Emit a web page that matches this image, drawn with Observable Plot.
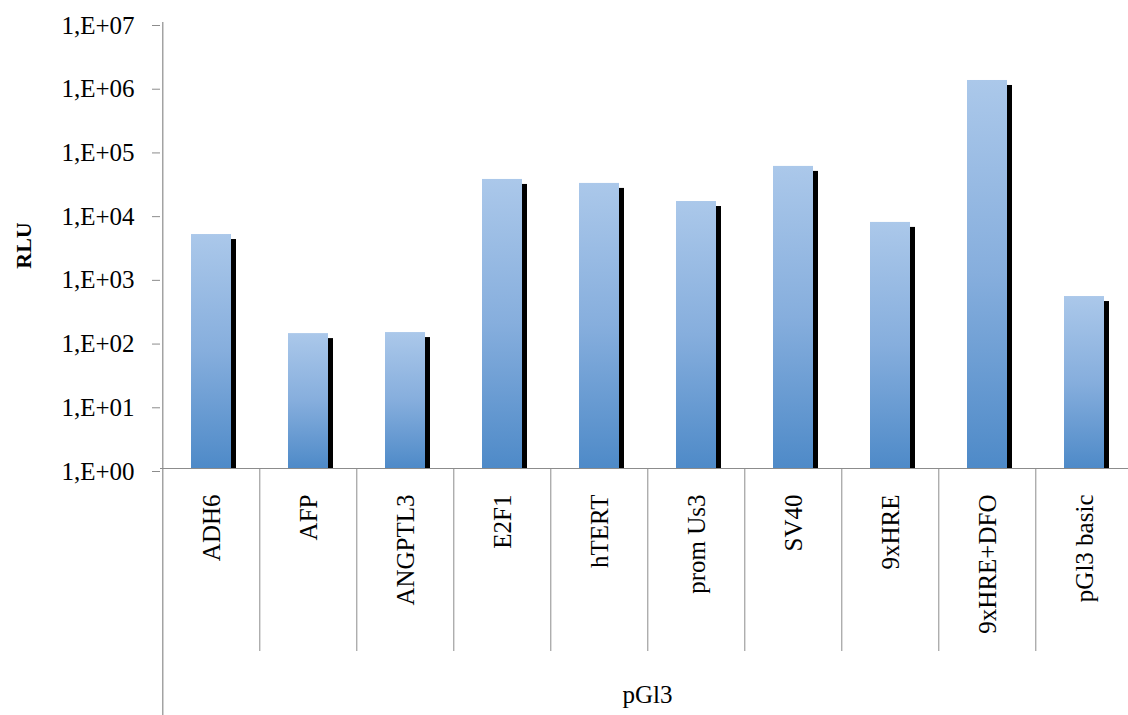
<!DOCTYPE html>
<html><head><meta charset="utf-8">
<script src="https://cdn.jsdelivr.net/npm/d3@7"></script>
<script src="https://cdn.jsdelivr.net/npm/@observablehq/plot@0.6"></script>
<style>body{margin:0;background:#fff}</style>
</head><body><div id="chart"></div>
<script>
const categories = ["ADH6","AFP","ANGPTL3","E2F1","hTERT","prom Us3","SV40","9xHRE","9xHRE+DFO","pGl3 basic"];
const values = [4700, 131, 136, 34400, 29800, 15500, 55100, 7280, 1230000, 500];
const yTicks = [1, 10, 100, 1000, 10000, 100000, 1000000, 10000000];
const yTickLabels = ["1,E+00","1,E+01","1,E+02","1,E+03","1,E+04","1,E+05","1,E+06","1,E+07"];
const yLabel = "RLU";
const groupLabel = "pGl3";

const data = categories.map((c, i) => ({category: c, value: values[i]}));
const W = 1128, H = 715, left = 160, right = 1134;
const mTop = 22, mBottom = 247;
const step = (right - left) / categories.length;
const axisGray = "#8c8c8c";
const font = "'Liberation Serif', 'Times New Roman', serif";

const chart = Plot.plot({
  width: W, height: H,
  marginLeft: 160, marginRight: 0, marginTop: mTop, marginBottom: mBottom,
  style: {fontFamily: font, background: "white", color: "black", overflow: "visible"},
  x: {type: "band", domain: categories, range: [left, right], paddingInner: 0.589, paddingOuter: 0.2945, axis: null},
  y: {type: "log", domain: [1, 1e7], axis: null},
  marks: [
    Plot.barY(data, {x: "category", y1: 1, y2: "value", fill: "#000", dx: 5, insetTop: 5}),
    Plot.barY(data, {x: "category", y1: 1, y2: "value", fill: "url(#barGrad)"}),
    Plot.ruleY([1], {stroke: axisGray, strokeWidth: 1.2}),
    Plot.ruleX(categories.slice(1), {x: d => d, dx: -step / 2, insetTop: H - mTop - mBottom, insetBottom: -183, stroke: axisGray}),
    Plot.ruleX(categories.slice(0, 1), {x: d => d, dx: -step / 2, insetBottom: -mBottom, stroke: axisGray, strokeWidth: 1.2}),
    Plot.axisY({ticks: yTicks, tickFormat: d => yTickLabels[yTicks.indexOf(d)], tickSize: 8, tickPadding: 18,
      fontSize: 25, stroke: axisGray, fill: "black", label: null, dy: 3}),
    Plot.text(categories, {x: d => d, text: d => d, frameAnchor: "bottom", dy: 26, rotate: -90,
      textAnchor: "end", lineAnchor: "middle", fontSize: 25, fill: "black"}),
    Plot.text([groupLabel], {frameAnchor: "bottom", dx: 3, dy: 226, textAnchor: "middle", lineAnchor: "middle", fontSize: 25, fill: "black"}),
    Plot.text([yLabel], {frameAnchor: "left", dx: -137, rotate: -90, textAnchor: "middle", lineAnchor: "middle",
      fontSize: 22, fontWeight: "bold", fill: "black"})
  ]
});

const defs = d3.select(chart).insert("defs", ":first-child");
const g = defs.append("linearGradient").attr("id", "barGrad").attr("x1", 0).attr("y1", 0).attr("x2", 0).attr("y2", 1);
g.append("stop").attr("offset", "0%").attr("stop-color", "#abc8ea");
g.append("stop").attr("offset", "50%").attr("stop-color", "#86aedd");
g.append("stop").attr("offset", "100%").attr("stop-color", "#4e8ac8");

document.getElementById("chart").append(chart);
</script>
</body></html>
